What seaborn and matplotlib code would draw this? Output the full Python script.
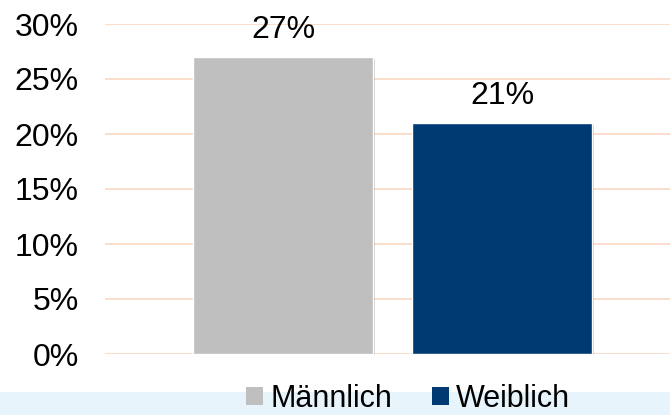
import matplotlib
matplotlib.use("Agg")
import matplotlib.pyplot as plt
import matplotlib.patheffects as pe
import seaborn as sns
import pandas as pd
from matplotlib.patches import Rectangle, Patch

categories = ["Männlich", "Weiblich"]
values = [27, 21]
colors = ["#BFBFBF", "#003A73"]
yticks = [0, 5, 10, 15, 20, 25, 30]

sns.set_theme(style="white")
plt.rcParams["font.family"] = ["Liberation Sans", "DejaVu Sans"]
plt.rcParams["text.color"] = "black"
plt.rcParams["ytick.color"] = "black"

df = pd.DataFrame({"Geschlecht": categories, "Anteil": values})

fig = plt.figure(figsize=(6.70, 4.15), dpi=100)
# light blue footer band
fig.patches.append(Rectangle((0, 0), 1, 23 / 415, transform=fig.transFigure,
                             facecolor="#E8F4FC", edgecolor="none", zorder=0))
ax = fig.add_axes([105 / 670, 61 / 415, 565 / 670, 330 / 415])
ax.set_facecolor("none")

sns.barplot(data=df, x="Geschlecht", y="Anteil", hue="Geschlecht",
            palette=colors, width=0.82, ax=ax, legend=False, zorder=3,
            saturation=1)
for bar in ax.patches:
    bar.set_path_effects([pe.SimplePatchShadow(offset=(1.5, -1.5), alpha=0.18,
                                               shadow_rgbFace="black"),
                          pe.Normal()])

ax.set_xlim(-0.813, 1.767)
ax.set_ylim(0, 30)
ax.set_yticks(yticks)
ax.set_yticklabels([f"{t}%" for t in yticks], fontsize=23, color="black")
ax.tick_params(axis="y", length=0, pad=19)
ax.set_xticks([])
ax.set_xlabel("")
ax.set_ylabel("")
for s in ax.spines.values():
    s.set_visible(False)
ax.yaxis.grid(True, color="#FADBC6", linewidth=1.3, zorder=0)
ax.set_axisbelow(True)

for i, v in enumerate(values):
    ax.text(i, v + 1.1, f"{v}%", ha="center", va="bottom", fontsize=23,
            color="black")

handles = [Patch(facecolor=c, edgecolor="none") for c in colors]
fig.legend(handles, categories, loc="lower center",
           bbox_to_anchor=(0.609, 1 / 415),
           ncol=2, frameon=False, fontsize=22, handlelength=0.55,
           handleheight=0.55, handletextpad=0.25, columnspacing=1.3,
           borderaxespad=0, borderpad=0, labelcolor="black")

fig.savefig("out.png", dpi=100)
